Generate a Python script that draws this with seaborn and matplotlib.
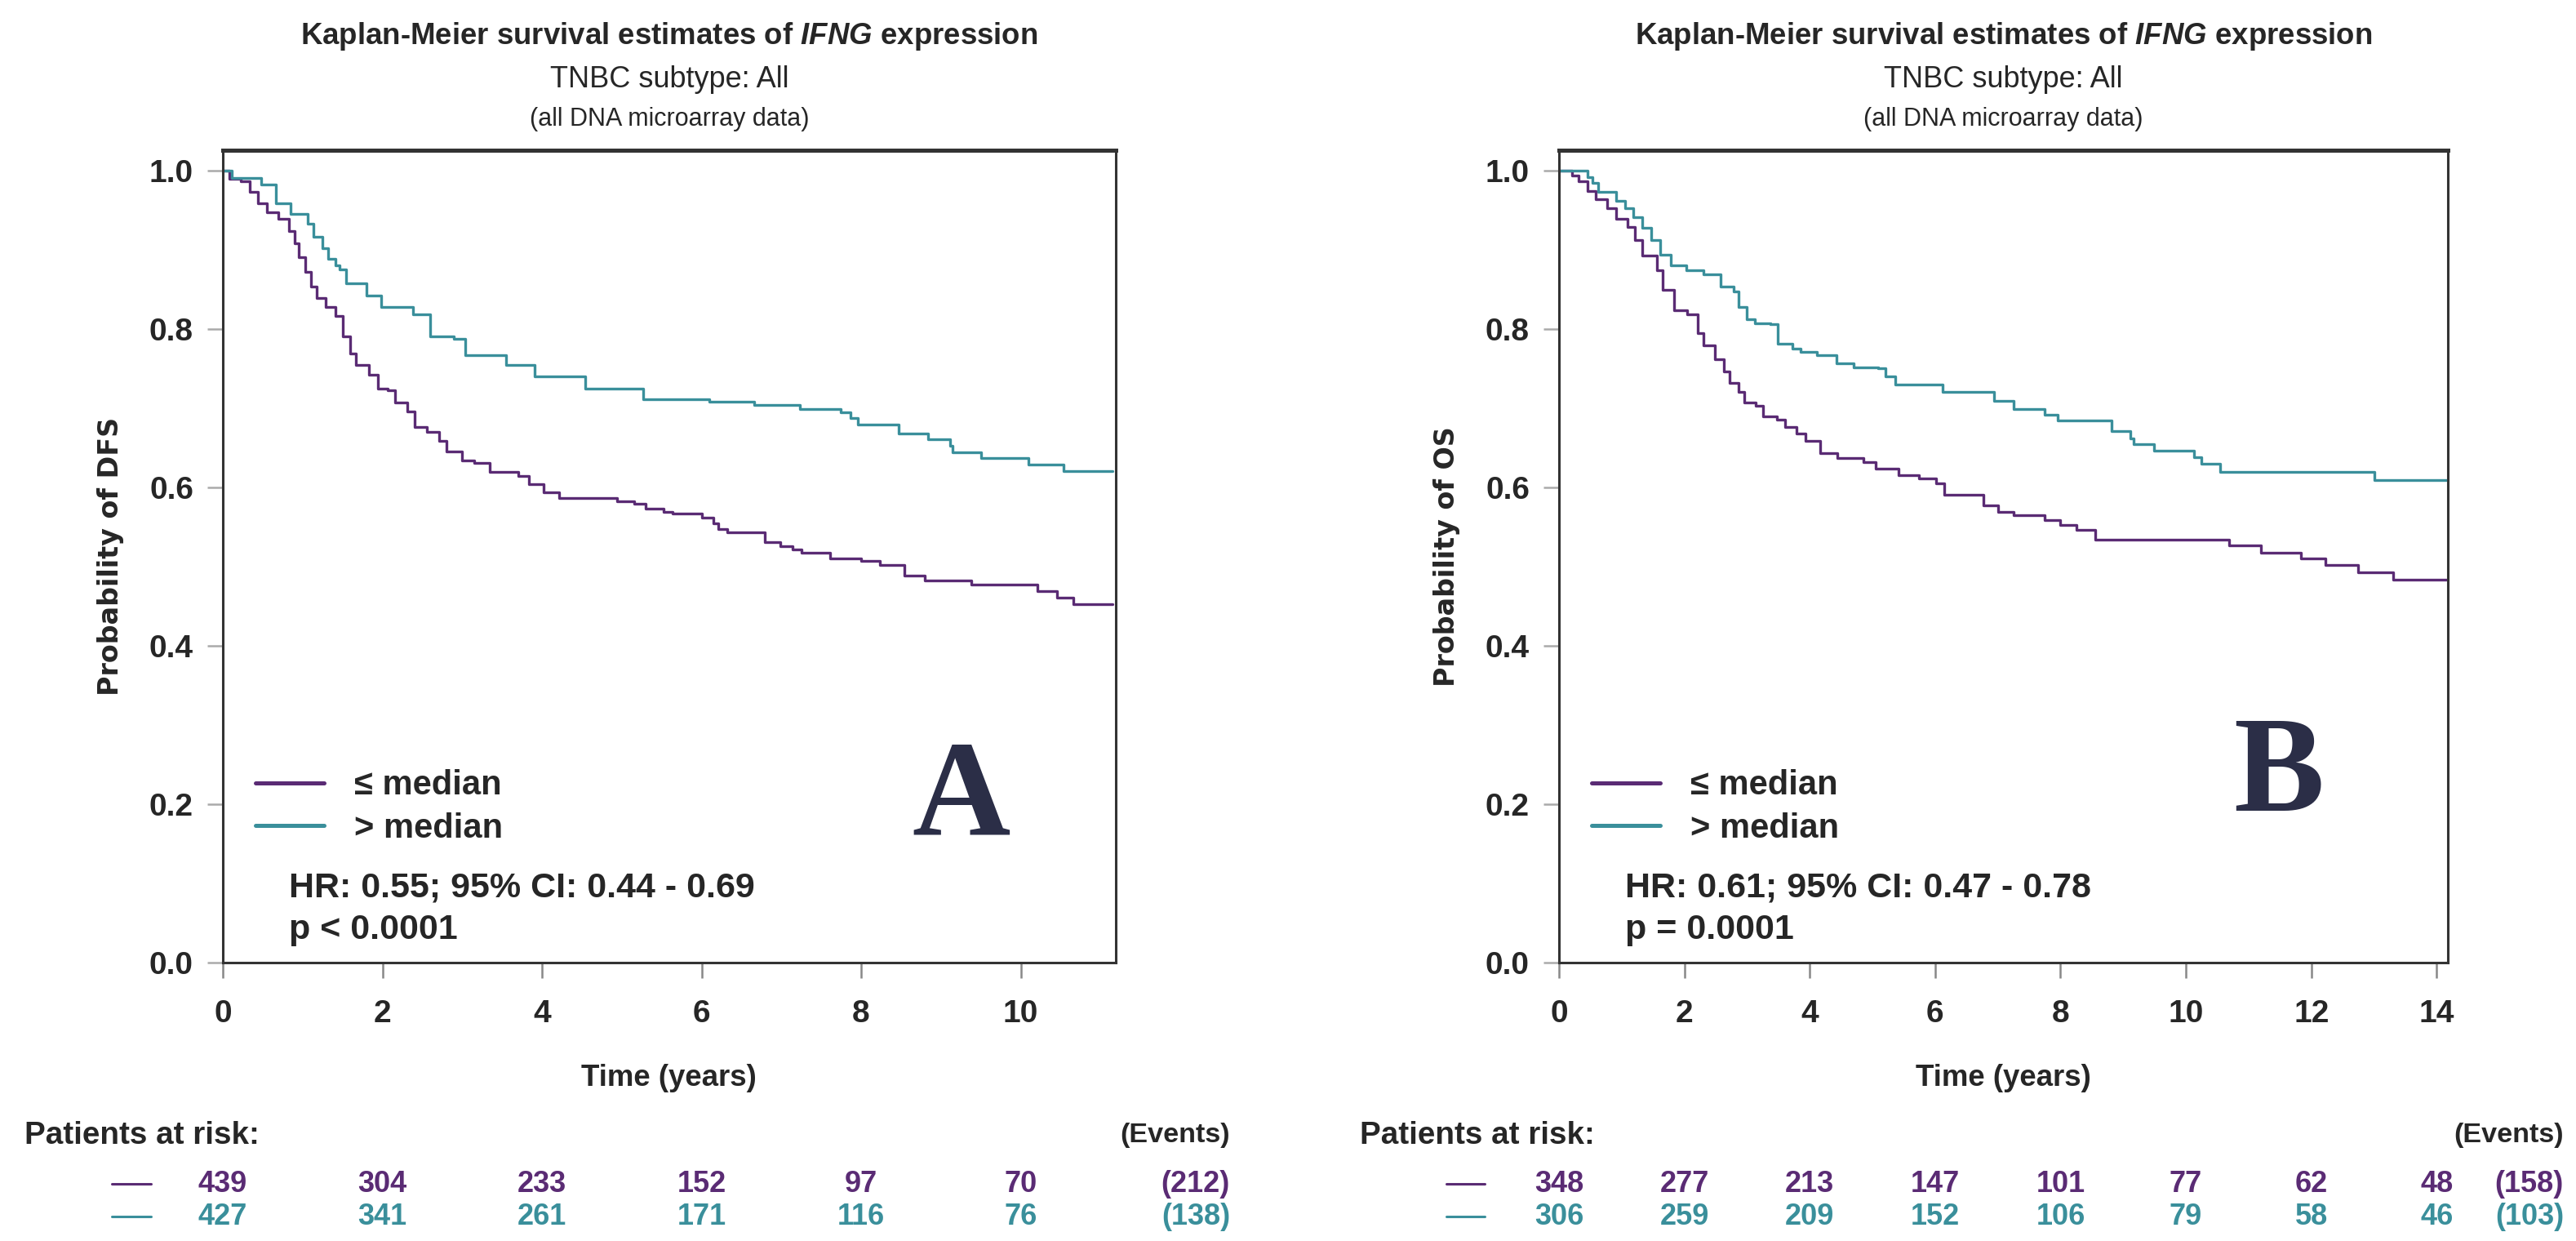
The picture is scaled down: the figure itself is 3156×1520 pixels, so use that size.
import pandas as pd
import seaborn as sns
import matplotlib.pyplot as plt
from matplotlib.lines import Line2D
from matplotlib.transforms import blended_transform_factory

## panel A: DFS
dfs_low_t = [0, 0.08, 0.23, 0.335, 0.444, 0.55, 0.70, 0.83, 0.90, 0.956, 1.03, 1.10, 1.175, 1.285,
             1.41, 1.50, 1.595, 1.67, 1.83, 1.94, 2.07, 2.16, 2.31, 2.40, 2.56, 2.71, 2.80, 3.00,
             3.15, 3.35, 3.70, 3.84, 4.02, 4.21, 4.94, 5.16, 5.30, 5.52, 5.64, 6.01, 6.15, 6.21,
             6.32, 6.79, 6.99, 7.14, 7.25, 7.61, 8.00, 8.23, 8.54, 8.80, 9.38, 10.21, 10.45, 10.66, 11.15]
dfs_low_s = [1.0, 0.990, 0.987, 0.974, 0.959, 0.948, 0.939, 0.924, 0.909, 0.891, 0.872, 0.854, 0.839, 0.828,
             0.817, 0.791, 0.769, 0.755, 0.743, 0.725, 0.723, 0.707, 0.696, 0.677, 0.670, 0.659, 0.646, 0.634,
             0.631, 0.620, 0.615, 0.604, 0.594, 0.587, 0.583, 0.580, 0.573, 0.569, 0.567, 0.562, 0.555, 0.548,
             0.543, 0.531, 0.526, 0.522, 0.518, 0.511, 0.507, 0.502, 0.489, 0.483, 0.477, 0.469, 0.461, 0.453, 0.453]
dfs_high_t = [0, 0.116, 0.48, 0.66, 0.846, 1.065, 1.14, 1.248, 1.32, 1.41, 1.467, 1.54, 1.80, 1.98, 2.38,
              2.60, 2.89, 3.04, 3.55, 3.91, 4.54, 5.27, 6.10, 6.66, 7.23, 7.74, 7.87, 7.96, 8.47, 8.84,
              9.11, 9.15, 9.50, 10.10, 10.54, 11.15]
dfs_high_s = [1.0, 0.991, 0.983, 0.959, 0.946, 0.933, 0.917, 0.902, 0.889, 0.881, 0.876, 0.858, 0.843, 0.828, 0.819,
              0.791, 0.788, 0.767, 0.755, 0.740, 0.725, 0.712, 0.708, 0.704, 0.699, 0.695, 0.688, 0.680, 0.668, 0.661,
              0.653, 0.645, 0.637, 0.629, 0.621, 0.621]

## panel B: OS
os_low_t = [0, 0.21, 0.31, 0.45, 0.59, 0.77, 0.91, 1.10, 1.21, 1.33, 1.56, 1.65, 1.84, 2.05, 2.21, 2.30,
            2.49, 2.63, 2.72, 2.86, 2.96, 3.14, 3.26, 3.47, 3.60, 3.79, 3.93, 4.16, 4.44, 4.86, 5.05,
            5.42, 5.74, 6.02, 6.14, 6.77, 7.01, 7.25, 7.74, 8.00, 8.25, 8.56, 10.69, 11.20, 11.83,
            12.23, 12.75, 13.31, 14.15]
os_low_s = [1.0, 0.994, 0.987, 0.975, 0.964, 0.953, 0.939, 0.929, 0.913, 0.893, 0.874, 0.850, 0.824, 0.819, 0.795, 0.780,
            0.762, 0.747, 0.732, 0.721, 0.707, 0.703, 0.690, 0.686, 0.677, 0.668, 0.659, 0.644, 0.637, 0.632, 0.624,
            0.616, 0.612, 0.605, 0.591, 0.578, 0.569, 0.565, 0.559, 0.553, 0.547, 0.534, 0.527, 0.518, 0.510,
            0.502, 0.493, 0.484, 0.484]
os_high_t = [0, 0.28, 0.45, 0.54, 0.63, 0.91, 1.05, 1.19, 1.33, 1.47, 1.61, 1.79, 2.03, 2.30, 2.58, 2.79,
             2.86, 3.00, 3.12, 3.37, 3.49, 3.72, 3.86, 4.12, 4.42, 4.70, 5.09, 5.21, 5.37, 6.12, 6.94,
             7.25, 7.74, 7.95, 8.82, 9.12, 9.17, 9.49, 10.13, 10.24, 10.55, 13.0, 14.15]
os_high_s = [1.0, 1.0, 0.992, 0.985, 0.974, 0.962, 0.953, 0.942, 0.928, 0.913, 0.894, 0.881, 0.874, 0.869, 0.854, 0.848,
             0.828, 0.813, 0.807, 0.806, 0.782, 0.775, 0.771, 0.767, 0.757, 0.752, 0.751, 0.740, 0.730, 0.721, 0.710,
             0.699, 0.692, 0.685, 0.671, 0.662, 0.655, 0.647, 0.638, 0.630, 0.620, 0.609, 0.609]

## patients at risk
dfs_risk_t = [0, 2, 4, 6, 8, 10]
dfs_risk_low = [439, 304, 233, 152, 97, 70]
dfs_risk_high = [427, 341, 261, 171, 116, 76]
dfs_events = [212, 138]
os_risk_t = [0, 2, 4, 6, 8, 10, 12, 14]
os_risk_low = [348, 277, 213, 147, 101, 77, 62, 48]
os_risk_high = [306, 259, 209, 152, 106, 79, 58, 46]
os_events = [158, 103]

groups = ["≤ median", "> median"]
PURPLE = "#5a2b74"
TEAL = "#3a8f9b"
NAVY = "#2b2e47"

sns.set_style("white")
plt.rcParams['font.family'] = ['Liberation Sans', 'DejaVu Sans']
plt.rcParams['mathtext.fontset'] = 'custom'
plt.rcParams['mathtext.rm'] = 'Liberation Sans:bold'
plt.rcParams['mathtext.it'] = 'Liberation Sans:italic:bold'
plt.rcParams['mathtext.bf'] = 'Liberation Sans:bold'

fig = plt.figure(figsize=(15.78, 7.6), dpi=200)
axA = fig.add_axes([0.0865, 0.2243, 0.3466, 0.6546])
axB = fig.add_axes([0.6052, 0.2243, 0.3451, 0.6546])


def panel(ax, low_t, low_s, high_t, high_s, xmax, xticks, ylab, hr, p, letter, letter_xy):
    df = pd.concat([
        pd.DataFrame({"time": low_t, "surv": low_s, "group": groups[0]}),
        pd.DataFrame({"time": high_t, "surv": high_s, "group": groups[1]}),
    ])
    sns.lineplot(data=df, x="time", y="surv", hue="group", palette=[PURPLE, TEAL],
                 drawstyle="steps-post", estimator=None, linewidth=1.2, ax=ax)
    ax.set_xlim(0, xmax)
    ax.set_ylim(0, 1.026)
    ax.set_xticks(xticks)
    ax.set_yticks([0, 0.2, 0.4, 0.6, 0.8, 1.0])
    ax.set_yticklabels(["0.0", "0.2", "0.4", "0.6", "0.8", "1.0"])
    ax.tick_params(axis="y", left=True, length=7, width=0.9, color="#aaaaaa", pad=6, labelsize=14)
    ax.tick_params(axis="x", bottom=True, length=7, width=0.9, color="#888888", pad=9, labelsize=14)
    for lab in ax.get_xticklabels() + ax.get_yticklabels():
        lab.set_fontweight("bold")
    for side in ["left", "right", "bottom"]:
        ax.spines[side].set_color("#333333")
        ax.spines[side].set_linewidth(1.1)
    ax.spines["top"].set_color("#333333")
    ax.spines["top"].set_linewidth(1.8)
    ax.set_xlabel("Time (years)", fontsize=13.2, fontweight="bold")
    ax.set_ylabel(ylab, fontsize=12, fontweight="bold", family="DejaVu Sans")
    ax.xaxis.set_label_coords(0.5, -0.125)
    ax.yaxis.set_label_coords(-0.111, 0.5)
    h, l = ax.get_legend_handles_labels()
    leg = ax.legend(h, l, loc="upper left", bbox_to_anchor=(0.037, 0.238), frameon=False,
                    prop={"weight": "bold", "size": 15}, handlelength=2.0,
                    handletextpad=0.9, labelspacing=0.3, borderpad=0, borderaxespad=0)
    for ln in leg.get_lines():
        ln.set_linewidth(1.8)
    ax.text(0.074, 0.0925, hr, transform=ax.transAxes, fontsize=15.5, fontweight="bold", va="center")
    ax.text(0.074, 0.040, p, transform=ax.transAxes, fontsize=15.5, fontweight="bold", va="center")
    ax.text(letter_xy[0], letter_xy[1], letter, transform=ax.transAxes, fontsize=60, fontweight="bold",
            family="Liberation Serif", color=NAVY, ha="center", va="center")


def titles(ax):
    bb = ax.get_position()
    xc = (bb.x0 + bb.x1) / 2
    fig.text(xc, 0.971, r"Kaplan-Meier survival estimates of $\it{IFNG}$ expression",
             ha="center", va="center", fontsize=13.2, fontweight="bold")
    fig.text(xc, 0.936, "TNBC subtype: All", ha="center", va="center", fontsize=13)
    fig.text(xc, 0.904, "(all DNA microarray data)", ha="center", va="center", fontsize=11)


def risk_table(ax, times, low, high, events, x_title, x_events, dash_x):
    tr = blended_transform_factory(ax.transData, fig.transFigure)
    y_head, y1, y2 = 1 - 1391 / 1520, 1 - 1450 / 1520, 1 - 1490 / 1520
    fig.text(x_title, y_head, "Patients at risk:", fontsize=13.9, fontweight="bold", va="center")
    fig.text(x_events, y_head, "(Events)", fontsize=12.3, fontweight="bold", va="center", ha="right")
    for t, a, b in zip(times, low, high):
        ax.text(t, y1, str(a), transform=tr, ha="center", va="center", fontsize=13,
                fontweight="bold", color=PURPLE, clip_on=False)
        ax.text(t, y2, str(b), transform=tr, ha="center", va="center", fontsize=13,
                fontweight="bold", color=TEAL, clip_on=False)
    fig.text(x_events, y1, "(%d)" % events[0], fontsize=13, fontweight="bold", color=PURPLE,
             va="center", ha="right")
    fig.text(x_events, y2, "(%d)" % events[1], fontsize=13, fontweight="bold", color=TEAL,
             va="center", ha="right")
    for yy, c in [(y1, PURPLE), (y2, TEAL)]:
        fig.add_artist(Line2D(dash_x, [yy, yy], color=c, linewidth=1.1))


panel(axA, dfs_low_t, dfs_low_s, dfs_high_t, dfs_high_s, 11.19, [0, 2, 4, 6, 8, 10],
      "Probability of DFS", "HR: 0.55; 95% CI: 0.44 - 0.69", "p < 0.0001", "A", (0.827, 0.198))
panel(axB, os_low_t, os_low_s, os_high_t, os_high_s, 14.18, [0, 2, 4, 6, 8, 10, 12, 14],
      "Probability of OS", "HR: 0.61; 95% CI: 0.47 - 0.78", "p = 0.0001", "B", (0.81, 0.227))
titles(axA)
titles(axB)
risk_table(axA, dfs_risk_t, dfs_risk_low, dfs_risk_high, dfs_events,
           30 / 3156, 1507 / 3156, [137 / 3156, 185 / 3156])
risk_table(axB, os_risk_t, os_risk_low, os_risk_high, os_events,
           1666 / 3156, 3141 / 3156, [1772 / 3156, 1819 / 3156])

plt.savefig("out.png", dpi=200)
